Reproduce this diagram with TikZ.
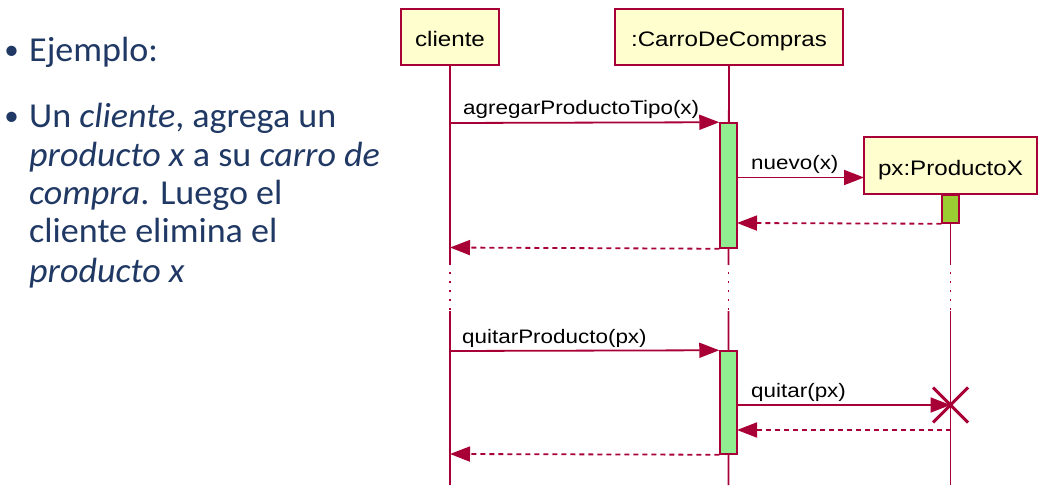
\documentclass[tikz,border=0pt]{standalone}
\usepackage{fontspec}
\usepackage{graphicx}
\usetikzlibrary{arrows.meta,shapes.misc}
\newfontfamily\calib{Carlito}
\newfontfamily\arialf{Liberation Sans}
\definecolor{umlred}{HTML}{A80036}
\definecolor{umlbox}{HTML}{FEFECE}
\definecolor{actgreen}{HTML}{90EE90}
\definecolor{actgreentwo}{HTML}{9ACD32}
\definecolor{slidetext}{HTML}{203864}
\newcommand{\hstretch}[1]{\scalebox{1.15}[1]{#1}}
\newcommand{\sstretch}[1]{\scalebox{1.03}[1]{#1}}
\begin{document}
\begin{tikzpicture}[x=1pt,y=-1pt,
  participant/.style={draw=umlred,fill=umlbox,line width=2.2pt,inner sep=0pt,
    text height=20pt,text depth=0pt,font=\arialf\fontsize{21}{24}\selectfont},
  actbar/.style={draw=umlred,fill=actgreen,line width=1.5pt,inner sep=0pt,minimum width=17pt},
  lifeline/.style={draw=umlred,line width=1.8pt},
  lifedots/.style={draw=umlred,line width=1.8pt,dash pattern=on 1.8pt off 7.2pt},
  msg/.style={draw=umlred,line width=1.8pt,-{Triangle[length=20pt,width=15pt]}},
  retmsg/.style={msg,dash pattern=on 5pt off 4pt},
  msglabel/.style={anchor=base west,inner sep=0pt,font=\arialf\fontsize{19.5}{22}\selectfont},
  slideline/.style={anchor=base west,inner sep=0pt,text=slidetext,font=\calib\fontsize{35}{40}\selectfont},
  bulletmark/.style={anchor=base,inner sep=0pt,text=slidetext,font=\calib\fontsize{29}{36}\selectfont}
]
\useasboundingbox[fill=white] (0,0) rectangle (1054,494);

% left text
\node[bulletmark] (b1) at (11.5,60) {•};
\node[slideline] (t1) at (29,62) {\sstretch{Ejemplo:}};
\node[bulletmark] (b2) at (11.5,126) {•};
\node[slideline] (t2) at (29,128) {\sstretch{Un \textit{cliente}, agrega un}};
\node[slideline] (t3) at (29,167) {\sstretch{\textit{producto x} a su \textit{carro de}}};
\node[slideline] (t4) at (29,205) {\sstretch{\textit{compra}. Luego el}};
\node[slideline] (t5) at (29,243) {\sstretch{cliente elimina el}};
\node[slideline] (t6) at (29,282) {\sstretch{\textit{producto x}}};

% participants
\node[participant,minimum width=98pt,minimum height=56pt] (cli) at (450,37) {\hstretch{cliente}};
\node[participant,minimum width=228pt,minimum height=56pt] (car) at (729,37) {\hstretch{:CarroDeCompras}};
\node[participant,minimum width=173pt,minimum height=57pt] (px) at (950.5,165.5) {\hstretch{px:ProductoX}};

% lifeline break coordinates
\coordinate (cliA) at (450,265); \coordinate (cliB) at (450,272); \coordinate (cliC) at (450,311); \coordinate (cliE) at (450,485);
\coordinate (carA) at (728.5,265); \coordinate (carB) at (728.5,272); \coordinate (carC) at (728.5,311); \coordinate (carE) at (728.5,485);
\coordinate (pxA) at (950.5,265); \coordinate (pxB) at (950.5,272); \coordinate (pxC) at (950.5,311); \coordinate (pxE) at (950.5,485);

\draw[lifeline] (cli.south) -- (cliA) (cliC) -- (cliE);
\draw[lifedots] (cliB) -- (cliC);
\draw[lifeline] (car.south) -- (carA) (carC) -- (carE);
\draw[lifedots] (carB) -- (carC);
\draw[lifeline] (px.south) -- (pxA) (pxC) -- (pxE);
\draw[lifedots] (pxB) -- (pxC);

% activation bars
\node[actbar,minimum height=125pt] (bar1) at (728.5,185.5) {};
\node[actbar,minimum height=103pt] (bar2) at (728.5,402.5) {};
\node[actbar,fill=actgreentwo,minimum height=28pt] (bar3) at (950.5,209) {};

% destruction cross
\node[cross out,draw=umlred,line width=3pt,minimum size=32pt,inner sep=0pt] (kill) at (950.5,405) {};

% message endpoints
\coordinate (m1s) at (450,123);
\coordinate (m2s) at (737,177.5);
\coordinate (m2e) at (864,177.5);
\coordinate (r2e) at (737,223);
\coordinate (r1e) at (450,247.5);
\coordinate (m3s) at (450,351);
\coordinate (m4s) at (737,405);
\coordinate (r4s) at (950.5,430);
\coordinate (r4e) at (737,430);
\coordinate (r3e) at (450,454);

\draw[msg] (m1s) -- (bar1.north west);
\draw[msg] (m2s) -- (m2e);
\draw[retmsg] (bar3.south west) -- (r2e);
\draw[retmsg] (bar1.south west) -- (r1e);
\draw[msg] (m3s) -- (bar2.north west);
\draw[msg] (m4s) -- (kill.center);
\draw[retmsg] (r4s) -- (r4e);
\draw[retmsg] (bar2.south west) -- (r3e);

% labels
\node[msglabel] (l1) at (463,115) {\hstretch{agregarProductoTipo(x)}};
\node[msglabel] (l2) at (751,170) {\hstretch{nuevo(x)}};
\node[msglabel] (l3) at (462,343) {\hstretch{quitarProducto(px)}};
\node[msglabel] (l4) at (751,397) {\hstretch{quitar(px)}};
\end{tikzpicture}
\end{document}
